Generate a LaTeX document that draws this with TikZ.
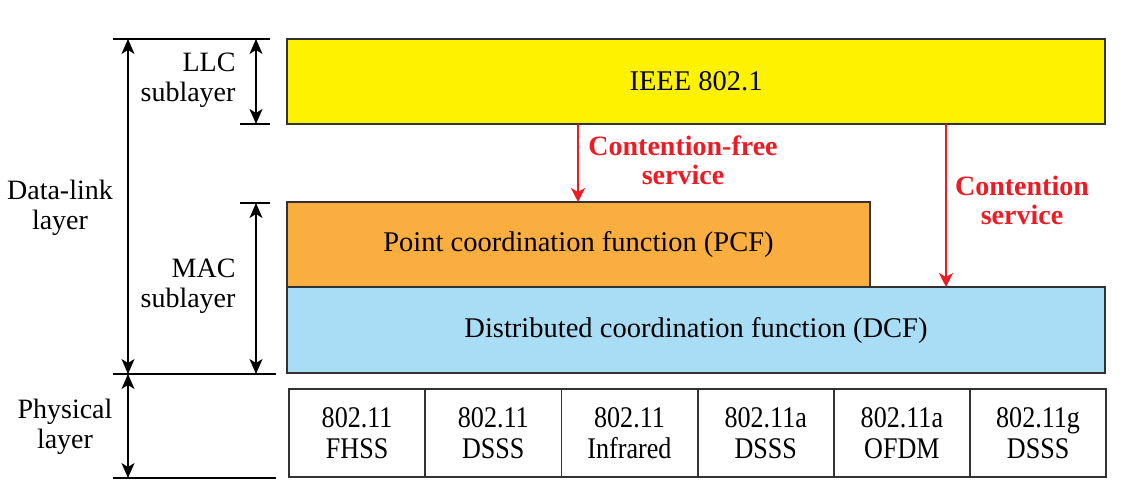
\documentclass[tikz,border=0pt]{standalone}
\usepackage{fontspec}
\setmainfont{Liberation Serif}
\newfontfamily\condserif[FakeStretch=0.87]{Liberation Serif}
\usetikzlibrary{arrows.meta}
\definecolor{llcyellow}{RGB}{255,242,0}
\definecolor{pcforange}{RGB}{250,174,64}
\definecolor{dcfblue}{RGB}{168,221,245}
\definecolor{svcred}{RGB}{237,28,36}
\definecolor{edgegray}{RGB}{50,50,50}
\tikzset{
  box/.style={draw=edgegray, line width=1.8pt, anchor=north west, inner sep=0pt, outer sep=0pt,
    font=\fontsize{28.5}{32}\selectfont, align=center},
  phybox/.style={box, minimum width=136.2pt, minimum height=88pt,
    font=\condserif\fontsize{30}{31}\selectfont},
  dimarrow/.style={line width=1.5pt, {Stealth[length=15pt,width=13pt,inset=4pt]}-{Stealth[length=15pt,width=13pt,inset=4pt]}},
  tick/.style={line width=1.5pt},
  svcarrow/.style={svcred, line width=2pt, -{Stealth[length=14pt,width=14pt,inset=4pt]}},
  svclabel/.style={svcred, font=\bfseries\fontsize{28}{29}\selectfont, align=center},
  sidelabel/.style={font=\fontsize{28}{30}\selectfont, align=center},
  sublabel/.style={font=\fontsize{28}{30}\selectfont, align=right, anchor=east}
}
\begin{document}
\begin{tikzpicture}[x=1pt,y=-1pt]
\useasboundingbox (0,0) rectangle (1139,502);
% main boxes
\node[box, fill=llcyellow, minimum width=818pt, minimum height=85pt] (ieee) at (287,39) {IEEE 802.1};
\node[box, fill=pcforange, minimum width=583pt, minimum height=85pt] (pcf) at (287,202) {Point coordination function (PCF)};
\node[box, fill=dcfblue, minimum width=818pt, minimum height=86pt] (dcf) at (287,287) {Distributed coordination function (DCF)};
% physical boxes
\node[phybox] (p1) at (289,389) {802.11\\FHSS};
\node[phybox] (p2) at (p1.north east) {802.11\\DSSS};
\node[phybox] (p3) at (p2.north east) {802.11\\Infrared};
\node[phybox] (p4) at (p3.north east) {802.11a\\DSSS};
\node[phybox] (p5) at (p4.north east) {802.11a\\OFDM};
\node[phybox] (p6) at (p5.north east) {802.11g\\DSSS};
% service arrows
\coordinate (cf) at (578,0);
\coordinate (cs) at (946,0);
\draw[svcarrow] (ieee.south -| cf) -- (pcf.north -| cf);
\draw[svcarrow] (ieee.south -| cs) -- (dcf.north -| cs);
\node[svclabel] (cflabel) at (683,160) {Contention-free\\service};
\node[svclabel] (cslabel) at (1022,200) {Contention\\service};
% left dimension lines
\coordinate (t0l) at (113,39);  \coordinate (t0r) at (270,39);
\coordinate (t1l) at (240,124); \coordinate (t1r) at (270,124);
\coordinate (t2l) at (240,203); \coordinate (t2r) at (270,203);
\coordinate (t3l) at (113,374); \coordinate (t3r) at (276,374);
\coordinate (t4l) at (113,478); \coordinate (t4r) at (276,478);
\draw[tick] (t0l) -- (t0r);
\draw[tick] (t1l) -- (t1r);
\draw[tick] (t2l) -- (t2r);
\draw[tick] (t3l) -- (t3r);
\draw[tick] (t4l) -- (t4r);
\coordinate (bx) at (128,0);
\coordinate (sx) at (256,0);
\draw[dimarrow] (t0l -| bx) -- (t3l -| bx);
\draw[dimarrow] (t3l -| bx) -- (t4l -| bx);
\draw[dimarrow] (t0l -| sx) -- (t1l -| sx);
\draw[dimarrow] (t2l -| sx) -- (t3l -| sx);
% labels
\node[sublabel] (llc) at (239,80) {LLC\\sublayer};
\node[sublabel] (mac) at (239,286) {MAC\\sublayer};
\node[sidelabel] (dl) at (60,208) {Data-link\\layer};
\node[sidelabel] (phy) at (65,427) {Physical\\layer};
\end{tikzpicture}
\end{document}
